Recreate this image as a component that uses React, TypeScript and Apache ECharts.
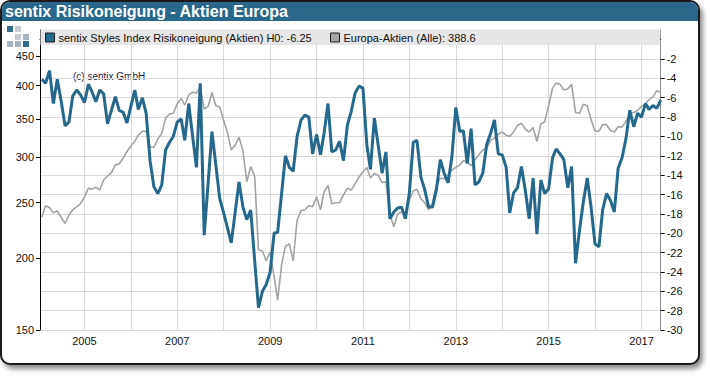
import React, { useEffect, useRef } from "react";
import * as echarts from "echarts";

// Monthly observations, first point February 2004, last point June 2017
const startYear = 2004;
const startMonth = 1; // February (0-based)

const riskAppetite = [
  -4.1, -4.5, -3.2, -6.6, -4.1, -6.3, -8.9, -8.5, -5.8, -5.2, -5.7, -6.5,
  -4.6, -5.4, -6.4, -5.2, -5.6, -8.7, -7.3, -5.9, -7.3, -7.5, -8.6, -6.9,
  -5.2, -7.2, -6.0, -7.6, -12.5, -15.2, -15.9, -15.0, -11.4, -10.6, -10.0, -8.5,
  -8.2, -10.4, -6.6, -9.9, -13.2, -4.5, -20.2, -14.8, -9.5, -13.0, -16.4, -17.9,
  -19.5, -21.0, -17.8, -14.7, -17.3, -18.6, -17.6, -22.8, -27.7, -26.0, -25.3, -24.0,
  -20.0, -19.9, -15.9, -12.0, -13.2, -13.6, -10.0, -8.3, -7.8, -8.0, -11.8, -9.8,
  -11.9, -9.7, -6.6, -11.6, -11.4, -10.5, -12.5, -8.8, -7.4, -5.5, -4.8, -5.0,
  -10.9, -13.4, -8.1, -10.9, -13.8, -11.6, -18.5, -17.8, -17.4, -17.3, -18.5, -15.9,
  -10.6, -10.4, -14.2, -15.5, -17.3, -17.3, -15.5, -12.4, -13.8, -14.8, -12.1, -7.0,
  -9.5, -9.4, -12.8, -9.2, -15.0, -14.7, -13.8, -10.8, -9.7, -8.3, -11.8, -11.9,
  -13.2, -17.9, -15.8, -15.3, -13.1, -15.5, -18.5, -14.3, -20.1, -14.5, -15.9, -15.4,
  -12.2, -11.3, -11.8, -12.4, -15.3, -13.1, -23.1, -19.7, -16.8, -14.3, -17.3, -21.1,
  -21.4, -17.6, -15.9, -16.6, -17.8, -13.3, -12.2, -10.2, -7.3, -9.0, -7.6, -8.0,
  -6.6, -7.2, -6.8, -7.1, -6.25,
];

const europeStocks = [
  236, 247, 245, 240, 242, 236, 230, 238, 243, 246, 249, 256,
  265, 264, 266, 263, 274, 278, 282, 291, 292, 299, 307, 314,
  320, 328, 333, 333, 313, 312, 323, 330, 351, 357, 358, 372,
  380, 370, 385, 390, 388, 398, 364, 368, 389, 369, 367, 348,
  330, 309, 315, 325, 308, 272, 289, 278, 207, 206, 198, 205,
  186, 169, 195, 210, 212, 198, 233, 242, 243, 247, 246, 256,
  243, 261, 268, 249, 250, 250, 258, 265, 263, 270, 277, 283,
  288, 276, 281, 279, 271, 272, 239, 227, 239, 241, 239, 253,
  262, 264, 254, 250, 243, 249, 268, 276, 275, 280, 285, 288,
  291, 296, 295, 290, 297, 303, 309, 311, 321, 324, 329, 332,
  328, 326, 332, 341, 344, 336, 332, 338, 320, 343, 346, 369,
  396, 404, 402, 393, 395, 402, 359, 358, 371, 369, 349, 333,
  333, 342, 342, 334, 332, 339, 339, 346, 358, 359, 362, 368,
  372, 378, 382, 392, 388.6,
];

const leftTickLabels = [150, 200, 250, 300, 350, 400, 450];
const rightTickLabels = [-30, -28, -26, -24, -22, -20, -18, -16, -14, -12, -10, -8, -6, -4, -2];

const nameRisk = "sentix Styles Index Risikoneigung (Aktien)";
const nameStocks = "Europa-Aktien (Alle)";
const titleText = "sentix Risikoneigung - Aktien Europa";

const FONT = "'Liberation Sans', Arial, sans-serif";
const BLUE = "#26688c";
const GRAY = "#a3a3a3";
const GRID = "#d9d9d9";
const FS = 11;

export default function App() {
  const ref = useRef<HTMLDivElement>(null);

  useEffect(() => {
    if (!ref.current) return;
    const chart = echarts.init(ref.current, undefined, { renderer: "svg" });

    const dates = riskAppetite.map((_, i) => Date.UTC(startYear, startMonth + i, 1));
    const riskData = riskAppetite.map((v, i) => [dates[i], v]);
    const stockData = europeStocks.map((v, i) => [dates[i], Math.log10(v)]);
    const lastRisk = riskAppetite[riskAppetite.length - 1];
    const lastStock = europeStocks[europeStocks.length - 1];

    const legendCommon = {
      top: 32,
      padding: 0,
      icon: "rect",
      itemWidth: 9,
      itemHeight: 9,
      itemGap: 5,
      z: 6,
      itemStyle: { borderColor: "#1e1e1e", borderWidth: 1 },
      textStyle: { color: "#111", fontSize: FS, fontFamily: FONT, padding: [1, 0, 0, -1] },
    };

    const option: any = {
      animation: false,
      useUTC: true,
      textStyle: { fontFamily: FONT },
      title: {
        text: titleText,
        left: 5,
        top: 2,
        padding: 0,
        textStyle: { color: "#fff", fontSize: 16, fontWeight: "bold", fontFamily: FONT, lineHeight: 19 },
      },
      grid: { left: 40, right: 49.3, top: 30, bottom: 46, containLabel: false },
      legend: [
        {
          ...legendCommon,
          data: [nameRisk],
          left: 45,
          formatter: (n: string) => `${n} H0: ${lastRisk}`,
        },
        {
          ...legendCommon,
          data: [nameStocks],
          left: 330,
          formatter: (n: string) => `${n}: ${lastStock}`,
        },
      ],
      xAxis: {
        type: "time",
        min: Date.UTC(2004, 0, 17),
        max: Date.UTC(2017, 5, 1),
        minInterval: 365 * 24 * 3600 * 1000,
        maxInterval: 366 * 24 * 3600 * 1000,
        axisLine: { show: true, lineStyle: { color: "#000", width: 1 } },
        axisTick: { show: false },
        axisLabel: {
          color: "#111",
          fontSize: FS,
          fontFamily: FONT,
          margin: 5,
          hideOverlap: false,
          formatter: (v: number) => {
            const d = new Date(v);
            const y = d.getUTCFullYear();
            if (d.getUTCMonth() === 0 && d.getUTCDate() === 1 && y % 2 === 1) return String(y);
            return "";
          },
        },
        splitLine: { show: true, lineStyle: { color: GRID, width: 1 } },
      },
      yAxis: [
        {
          type: "value",
          position: "left",
          min: Math.log10(150),
          max: Math.log10(500),
          axisLine: { show: true, onZero: false, lineStyle: { color: "#000", width: 1 } },
          axisTick: {
            show: true,
            length: 4,
            customValues: leftTickLabels.map((v) => Math.log10(v)),
            lineStyle: { color: "#000" },
          },
          axisLabel: {
            customValues: leftTickLabels.map((v) => Math.log10(v)),
            color: "#111",
            fontSize: FS,
            fontFamily: FONT,
            margin: 6,
            formatter: (v: number) => String(Math.round(Math.pow(10, v))),
          },
          splitLine: { show: false },
        },
        {
          type: "value",
          position: "right",
          min: -30,
          max: 1,
          interval: 2,
          axisLine: { show: true, onZero: false, lineStyle: { color: "#8a8a8a", width: 1 } },
          axisTick: { show: true, length: 4, customValues: rightTickLabels, lineStyle: { color: "#000" } },
          axisLabel: {
            customValues: rightTickLabels,
            color: "#111",
            fontSize: FS,
            fontFamily: FONT,
            margin: 6,
            formatter: (v: number) => (v <= -2 ? String(v) : ""),
          },
          splitLine: { show: true, lineStyle: { color: GRID, width: 1 } },
        },
      ],
      graphic: [
        {
          type: "rect",
          z: -1,
          shape: { x: 2, y: 2, width: 696, height: 19, r: [8, 8, 0, 0] },
          style: { fill: "#29688b" },
        },
        {
          type: "rect",
          z: 4,
          shape: { x: 40.5, y: 29.5, width: 619.7, height: 15.5 },
          style: { fill: "#e6e6e6" },
        },
        { type: "rect", shape: { x: 7, y: 26, width: 6, height: 6 }, style: { fill: "#2e6a8e" } },
        { type: "rect", shape: { x: 15, y: 26, width: 6, height: 6 }, style: { fill: "#c5ccd3" } },
        { type: "rect", shape: { x: 15, y: 34, width: 6, height: 6 }, style: { fill: "#c5ccd3" } },
        { type: "rect", shape: { x: 23, y: 34, width: 6, height: 6 }, style: { fill: "#a7b4bf" } },
        { type: "rect", shape: { x: 7, y: 41, width: 6, height: 6 }, style: { fill: "#a7b4bf" } },
        { type: "rect", shape: { x: 15, y: 41, width: 6, height: 6 }, style: { fill: "#a7b4bf" } },
        { type: "rect", shape: { x: 23, y: 41, width: 6, height: 6 }, style: { fill: "#2e6a8e" } },
        {
          type: "text",
          x: 73,
          y: 71,
          style: { text: "(c) sentix GmbH", fill: "#1c1c3a", fontSize: 10, fontFamily: FONT },
        },
      ],
      series: [
        {
          name: nameStocks,
          type: "line",
          yAxisIndex: 0,
          data: stockData,
          showSymbol: false,
          color: GRAY,
          itemStyle: { color: GRAY },
          lineStyle: { color: GRAY, width: 1.6 },
          z: 2,
        },
        {
          name: nameRisk,
          type: "line",
          yAxisIndex: 1,
          data: riskData,
          showSymbol: false,
          color: BLUE,
          itemStyle: { color: BLUE },
          lineStyle: { color: BLUE, width: 3 },
          z: 3,
        },
      ],
    };

    chart.setOption(option);
    return () => chart.dispose();
  }, []);

  return (
    <div style={{ position: "fixed", left: 0, top: 0, width: 710, height: 376, background: "#fff" }}>
      <div
        style={{
          position: "absolute",
          left: 0,
          top: 0,
          width: 696,
          height: 361,
          border: "2px solid #1b1b1b",
          borderRadius: 10,
          boxShadow: "3px 4px 5px rgba(0,0,0,0.45)",
          background: "#fff",
        }}
      />
      <div ref={ref} style={{ position: "absolute", left: 0, top: 0, width: 710, height: 376 }} />
    </div>
  );
}
